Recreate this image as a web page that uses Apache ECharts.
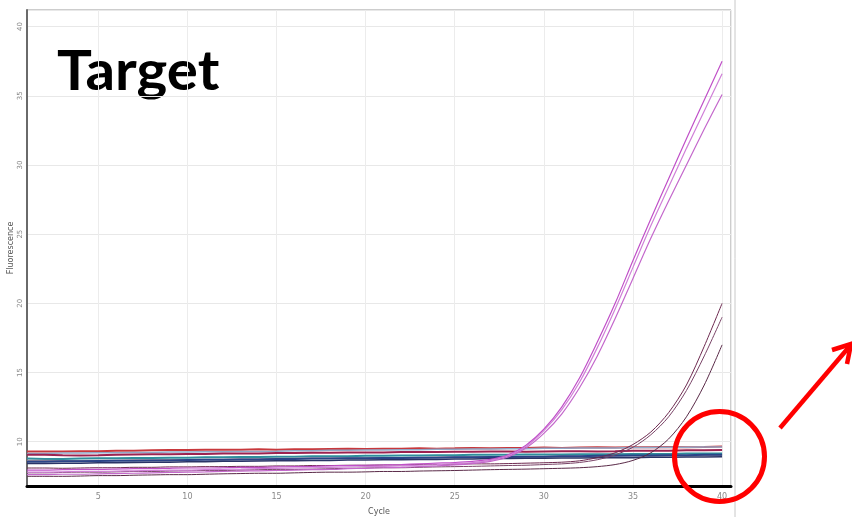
<!DOCTYPE html>
<html>
<head>
<meta charset="utf-8">
<script src="https://cdn.jsdelivr.net/npm/echarts@6/dist/echarts.min.js"></script>
<style>
  html, body { margin: 0; padding: 0; background: #ffffff; }
  #chart { width: 852px; height: 517px; }
</style>
</head>
<body>
<div id="chart"></div>
<script>
// qPCR amplification plot: fluorescence per cycle, 1..40
const cycles = Array.from({ length: 40 }, (_, i) => i + 1);

// flat (non-amplifying) wells
const flatRed      = [9.30,9.30,9.30,9.32,9.32,9.35,9.35,9.38,9.40,9.40,9.42,9.42,9.42,9.45,9.42,9.45,9.45,9.48,9.50,9.48,9.50,9.50,9.52,9.50,9.52,9.55,9.52,9.55,9.55,9.58,9.55,9.58,9.60,9.58,9.60,9.60,9.62,9.60,9.62,9.65];
const flatMaroon   = [9.05,9.05,9.02,9.00,9.02,9.05,9.08,9.10,9.10,9.12,9.12,9.15,9.15,9.15,9.18,9.18,9.20,9.20,9.22,9.22,9.22,9.25,9.25,9.25,9.28,9.28,9.30,9.30,9.28,9.30,9.32,9.32,9.30,9.32,9.35,9.35,9.35,9.38,9.38,9.40];
const flatSteel    = [9.15,9.15,9.18,9.18,9.20,9.20,9.22,9.22,9.25,9.25,9.28,9.28,9.30,9.30,9.32,9.35,9.35,9.38,9.38,9.40,9.40,9.42,9.42,9.45,9.45,9.48,9.48,9.50,9.50,9.52,9.52,9.55,9.55,9.55,9.58,9.58,9.60,9.60,9.62,9.62];
const flatTeal     = [8.78,8.75,8.75,8.78,8.80,8.80,8.82,8.82,8.85,8.85,8.88,8.88,8.90,8.90,8.92,8.92,8.95,8.95,8.95,8.98,8.98,9.00,9.00,9.02,9.02,9.05,9.05,9.05,9.08,9.08,9.08,9.10,9.10,9.10,9.12,9.12,9.12,9.15,9.15,9.15];
const flatGrey     = [8.65,8.65,8.62,8.62,8.65,8.65,8.68,8.68,8.70,8.70,8.72,8.72,8.75,8.75,8.78,8.78,8.80,8.80,8.82,8.82,8.85,8.85,8.85,8.88,8.88,8.90,8.90,8.92,8.92,8.92,8.95,8.95,8.95,8.98,8.98,8.98,9.00,9.00,9.00,9.02];
const flatNavy     = [8.42,8.42,8.45,8.45,8.48,8.48,8.50,8.52,8.52,8.55,8.55,8.58,8.58,8.60,8.62,8.62,8.65,8.65,8.68,8.68,8.70,8.70,8.72,8.72,8.75,8.75,8.78,8.78,8.80,8.80,8.82,8.82,8.85,8.85,8.85,8.88,8.88,8.90,8.90,8.92];
const flatBlue     = [8.55,8.55,8.58,8.58,8.60,8.62,8.62,8.65,8.65,8.68,8.70,8.70,8.72,8.72,8.75,8.75,8.78,8.78,8.80,8.80,8.82,8.82,8.85,8.85,8.88,8.88,8.90,8.90,8.92,8.92,8.95,8.95,8.98,8.98,9.00,9.00,9.02,9.02,9.05,9.05];

// amplifying wells, early Cq group
const ampPinkA = [7.95,7.95,7.98,8.00,8.00,8.02,8.05,8.05,8.08,8.10,8.10,8.12,8.15,8.15,8.18,8.20,8.22,8.25,8.28,8.30,8.32,8.35,8.40,8.45,8.50,8.58,8.72,9.05,9.75,10.9,12.5,14.6,17.2,20.0,23.1,26.1,29.0,31.9,34.7,37.5];
const ampPinkB = [7.80,7.80,7.82,7.85,7.85,7.88,7.90,7.92,7.95,7.95,7.98,8.00,8.02,8.05,8.08,8.10,8.12,8.15,8.18,8.20,8.22,8.25,8.30,8.35,8.42,8.50,8.65,8.98,9.65,10.8,12.3,14.3,16.8,19.6,22.6,25.6,28.4,31.2,33.9,36.6];
const ampPinkC = [7.62,7.62,7.65,7.65,7.68,7.70,7.72,7.75,7.78,7.80,7.82,7.85,7.88,7.90,7.92,7.95,7.98,8.00,8.05,8.08,8.12,8.15,8.20,8.25,8.32,8.42,8.58,8.90,9.55,10.6,12.0,13.9,16.2,18.9,21.8,24.7,27.4,30.0,32.6,35.1];

// amplifying wells, late Cq group
const ampDarkD = [8.10,8.10,8.08,8.10,8.12,8.12,8.15,8.15,8.18,8.18,8.20,8.20,8.22,8.22,8.25,8.25,8.28,8.28,8.30,8.30,8.32,8.32,8.35,8.35,8.38,8.40,8.40,8.42,8.45,8.48,8.52,8.62,8.85,9.20,9.80,10.7,12.1,14.1,16.9,20.0];
const ampDarkE = [7.75,7.75,7.78,7.80,7.80,7.82,7.85,7.85,7.88,7.90,7.92,7.92,7.95,7.98,8.00,8.00,8.02,8.05,8.08,8.10,8.12,8.12,8.15,8.18,8.20,8.22,8.25,8.28,8.30,8.35,8.40,8.50,8.70,9.05,9.60,10.5,11.8,13.7,16.2,19.0];
const ampDarkF = [7.50,7.50,7.50,7.52,7.55,7.55,7.58,7.60,7.62,7.62,7.65,7.68,7.70,7.72,7.72,7.75,7.78,7.80,7.80,7.82,7.85,7.85,7.88,7.90,7.92,7.95,7.98,8.00,8.02,8.05,8.08,8.12,8.20,8.35,8.65,9.20,10.2,11.8,14.1,17.0];

const xTicks = [5, 10, 15, 20, 25, 30, 35, 40];
const yTicks = [10, 15, 20, 25, 30, 35, 40];

const pairs = vals => cycles.map((c, i) => [c, vals[i]]);

function flat(name, vals, color, width) {
  return { name, type: 'line', data: pairs(vals), showSymbol: false, silent: true,
    lineStyle: { color, width }, z: 2 };
}
function amp(name, vals, color, width) {
  return { name, type: 'line', data: pairs(vals), showSymbol: false, silent: true,
    smooth: 0.3, lineStyle: { color, width }, z: 3 };
}

const chart = echarts.init(document.getElementById('chart'), null, { renderer: 'canvas' });

chart.setOption({
  animation: false,
  backgroundColor: '#ffffff',
  grid: { left: 27, top: 10, right: 121, bottom: 31, containLabel: false, outerBoundsMode: 'none',
    show: true, borderColor: '#9a9a9a', borderWidth: 1 },
  xAxis: {
    type: 'value', min: 1, max: 40.5, splitNumber: 8,
    name: 'Cycle', nameLocation: 'middle', nameGap: 22, nameMoveOverlap: false,
    nameTextStyle: { fontFamily: 'DejaVu Sans', fontSize: 8, color: '#555' },
    axisLine: { show: true, lineStyle: { color: '#000', width: 3 } },
    axisTick: { show: false },
    axisLabel: { color: '#888', fontSize: 8, fontFamily: 'DejaVu Sans', margin: 7,
      showMinLabel: false, showMaxLabel: false,
      formatter: v => (xTicks.includes(v) ? String(v) : '') },
    splitLine: { show: true, lineStyle: { color: '#ececec', width: 1 } }
  },
  yAxis: {
    type: 'value', min: 6.8, max: 41.2, splitNumber: 7,
    name: 'Fluorescence', nameLocation: 'middle', nameGap: 12, nameRotate: 90, nameMoveOverlap: false,
    nameTextStyle: { fontFamily: 'DejaVu Sans', fontSize: 8, color: '#555' },
    axisLine: { show: true, lineStyle: { color: '#6a6a6a', width: 2 } },
    axisTick: { show: false },
    axisLabel: { color: '#888', fontSize: 7, fontFamily: 'DejaVu Sans', margin: 3, rotate: 90,
      showMinLabel: false, showMaxLabel: false,
      formatter: v => (yTicks.includes(v) ? String(v) : '') },
    splitLine: { show: true, lineStyle: { color: '#e8e8e8', width: 1 } }
  },
  series: [
    flat('red', flatRed, '#c8383c', 2),
    flat('steel', flatSteel, '#90a8c8', 1.5),
    flat('maroon', flatMaroon, '#9c2250', 2),
    flat('teal', flatTeal, '#2f8e9c', 2),
    flat('grey', flatGrey, '#9a8a98', 1.5),
    flat('blue', flatBlue, '#2a4488', 2),
    flat('navy', flatNavy, '#2a3466', 1.5),
    amp('D', ampDarkD, '#6e2a50', 1),
    amp('E', ampDarkE, '#7a4468', 1),
    amp('F', ampDarkF, '#5a2a48', 1),
    amp('A', ampPinkA, '#c050c8', 1.2),
    amp('B', ampPinkB, '#d080d8', 1.2),
    amp('C', ampPinkC, '#c468cc', 1.2)
  ],
  graphic: [
    { type: 'line', shape: { x1: 735, y1: 0, x2: 735, y2: 517 }, style: { stroke: '#c8c8c8', lineWidth: 1 }, silent: true },
    { type: 'text', x: 57, y: 45, scaleX: 1.06, style: { text: 'Target', fontFamily: 'Lato', fontWeight: 'bold', fontSize: 55, fill: '#000' }, silent: true },
    { type: 'circle', shape: { cx: 719.5, cy: 456.5, r: 45 }, style: { fill: 'none', stroke: '#ff0000', lineWidth: 5 }, silent: true, z: 10 },
    { type: 'line', shape: { x1: 780, y1: 428, x2: 849, y2: 347 }, style: { stroke: '#ff0000', lineWidth: 4.5 }, silent: true, z: 10 },
    { type: 'polyline', shape: { points: [[832, 350], [851, 344], [847, 364]] }, style: { stroke: '#ff0000', lineWidth: 4.5, fill: 'none' }, silent: true, z: 10 }
  ]
});
</script>
</body>
</html>
